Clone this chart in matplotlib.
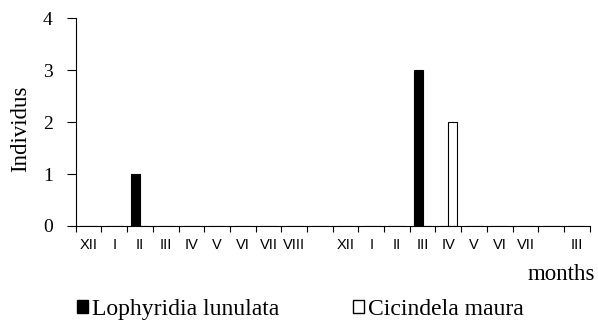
import numpy as np
import matplotlib.pyplot as plt
from matplotlib.patches import Patch

# categories (blank slots are gaps in the survey)
months = ['XII', 'I', 'II', 'III', 'IV', 'V', 'VI', 'VII', 'VIII', '',
          'XII', 'I', 'II', 'III', 'IV', 'V', 'VI', 'VII', '', 'III']
lophyridia = [0, 0, 1, 0, 0, 0, 0, 0, 0, 0,
              0, 0, 0, 3, 0, 0, 0, 0, 0, 0]
cicindela = [0, 0, 0, 0, 0, 0, 0, 0, 0, 0,
             0, 0, 0, 0, 2, 0, 0, 0, 0, 0]
yticks = [0, 1, 2, 3, 4]

serif = 'Liberation Serif'
narrow = ['Liberation Sans Narrow', 'Liberation Sans']

fig = plt.figure(figsize=(5.98, 3.24), dpi=100)
ax = fig.add_axes([0.1266, 0.3025, 0.8595, 0.6415])

x = np.arange(len(months)) + 0.5
w = 0.33
ax.bar(x - w / 2, lophyridia, width=w, color='black', edgecolor='black', linewidth=0.8)
ax.bar(x + w / 2, cicindela, width=w, color='white', edgecolor='black', linewidth=0.8)

ax.set_xlim(0, len(months))
ax.set_ylim(0, 4)

# tick marks sit between months, labels in the middle
ax.set_xticks(np.arange(len(months) + 1))
ax.set_xticklabels([])
ax.set_xticks(x, minor=True)
ax.set_xticklabels(months, minor=True, fontfamily=narrow, fontsize=10.5)
ax.tick_params(axis='x', which='major', direction='out', length=4, width=0.8)
ax.tick_params(axis='x', which='minor', length=0, pad=8.5)

ax.set_yticks(yticks)
ax.set_yticklabels([str(v) for v in yticks], fontfamily=serif, fontsize=14)
ax.tick_params(axis='y', direction='out', length=6.5, width=0.8, pad=10)

for s in ['top', 'right']:
    ax.spines[s].set_visible(False)
for s in ['left', 'bottom']:
    ax.spines[s].set_linewidth(0.8)

ax.set_ylabel('Individus', fontfamily=serif, fontsize=16.5)
ax.yaxis.set_label_coords(-0.086, 0.466)
fig.text(0.995, 0.154, 'months', ha='right', va='center', fontfamily=serif, fontsize=16.5)

handles = [Patch(facecolor='black', edgecolor='black', label='Lophyridia lunulata'),
           Patch(facecolor='white', edgecolor='black', label='Cicindela maura')]
fig.legend(handles=handles, loc='center left', bbox_to_anchor=(0.129, 0.045), ncol=2,
           frameon=False, borderpad=0, borderaxespad=0, handlelength=0.47, handleheight=0.47,
           handletextpad=0.17, columnspacing=3.1, prop={'family': serif, 'size': 17})

fig.savefig('out.png', dpi=100)
